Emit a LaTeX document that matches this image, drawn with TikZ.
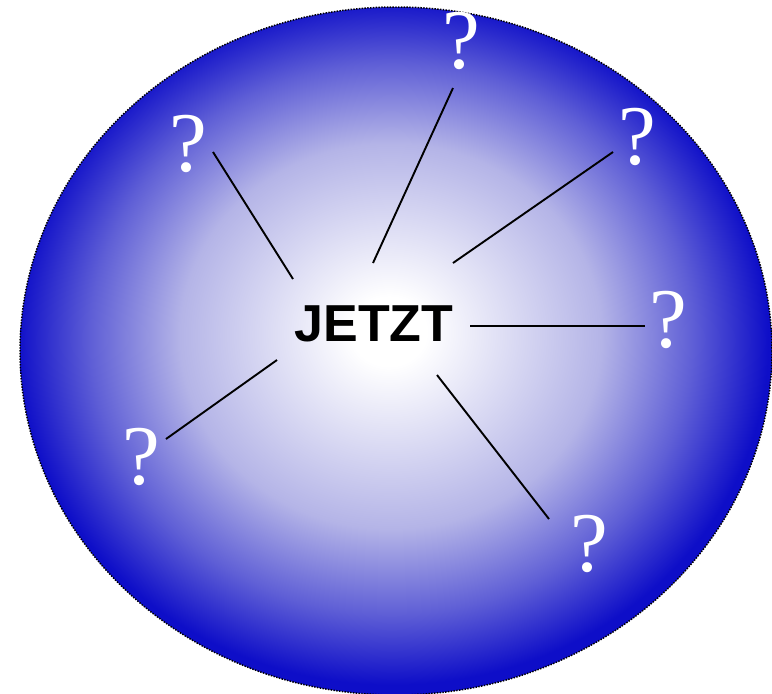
\documentclass[tikz,border=0pt]{standalone}
\usepackage{fontspec}
\setmainfont{Liberation Serif}
\newfontfamily\jetztfont{Liberation Sans}
\definecolor{edgeblue}{RGB}{14,14,200}
\definecolor{midblueA}{RGB}{180,180,231}
\definecolor{midblueB}{RGB}{95,95,214}
\pgfdeclareradialshading{ballshade}{\pgfpoint{-0.5bp}{1.5bp}}{color(0bp)=(white); color(2.5bp)=(white); color(14bp)=(midblueA); color(20bp)=(midblueB); color(25bp)=(edgeblue); color(50bp)=(edgeblue)}
\tikzset{
  qmark/.style={inner sep=0pt, anchor=base, text=white, font=\fontsize{85}{85}\selectfont},
  centre/.style={inner sep=0pt, anchor=base, text=black, font=\jetztfont\bfseries\fontsize{52}{52}\selectfont},
  link/.style={draw=black, line width=1.9pt},
  rim/.style={draw=black, line width=1.5pt, dash pattern=on 1.4pt off 1.4pt}
}
\begin{document}
\begin{tikzpicture}[x=1pt,y=-1pt]
\useasboundingbox (0,0) rectangle (772,694);
\path[shading=ballshade, rim] (396,351) ellipse [x radius=376, y radius=344];
\node[centre] (j) at (374,341) {JETZT};
\node[qmark] (q1) at (188,171) {?};
\node[qmark] (q2) at (461,68) {?};
\node[qmark] (q3) at (637,164) {?};
\node[qmark] (q4) at (668,347) {?};
\node[qmark] (q5) at (141,484) {?};
\node[qmark] (q6) at (589,571) {?};
\coordinate (a1) at (293,279); \coordinate (b1) at (213,152);
\coordinate (a2) at (373,263); \coordinate (b2) at (453,88);
\coordinate (a3) at (453,263); \coordinate (b3) at (613,152);
\coordinate (a4) at (470,326); \coordinate (b4) at (645,326);
\coordinate (a5) at (277,360); \coordinate (b5) at (166,439);
\coordinate (a6) at (437,375); \coordinate (b6) at (549,519);
\draw[link] (a1) -- (b1);
\draw[link] (a2) -- (b2);
\draw[link] (a3) -- (b3);
\draw[link] (a4) -- (b4);
\draw[link] (a5) -- (b5);
\draw[link] (a6) -- (b6);
\end{tikzpicture}
\end{document}
